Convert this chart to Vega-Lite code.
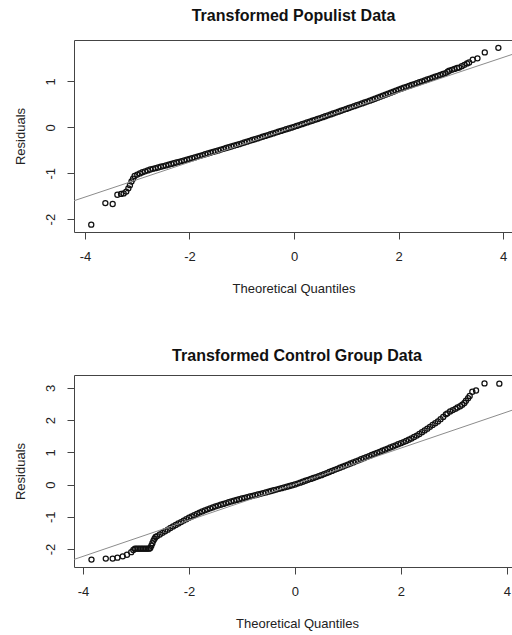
{
  "$schema": "https://vega.github.io/schema/vega-lite/v6.json",
  "background": "white",
  "padding": {"left": 13, "top": 7, "right": 0, "bottom": 0},
  "spacing": 51,
  "datasets": {
    "populist": [
      {"x":-3.88,"y":-2.12},{"x":-3.61,"y":-1.65},{"x":-3.47,"y":-1.67},{"x":-3.38,"y":-1.47},{"x":-3.31,"y":-1.45},{"x":-3.26,"y":-1.44},{"x":-3.21,"y":-1.4},{"x":-3.17,"y":-1.33},{"x":-3.14,"y":-1.26},{"x":-3.11,"y":-1.18},{"x":-3.08,"y":-1.12},
      {"x":-3.05,"y":-1.06},{"x":-3.0,"y":-1.03},{"x":-2.95,"y":-1.005},{"x":-2.9,"y":-0.98},{"x":-2.85,"y":-0.96},{"x":-2.8,"y":-0.94},{"x":-2.75,"y":-0.92},{"x":-2.7,"y":-0.905},{"x":-2.65,"y":-0.89},{"x":-2.6,"y":-0.875},{"x":-2.55,"y":-0.86},{"x":-2.5,"y":-0.845},{"x":-2.45,"y":-0.83},{"x":-2.4,"y":-0.814},{"x":-2.35,"y":-0.798},{"x":-2.3,"y":-0.783},{"x":-2.25,"y":-0.767},{"x":-2.2,"y":-0.752},{"x":-2.15,"y":-0.736},{"x":-2.1,"y":-0.721},{"x":-2.05,"y":-0.705},{"x":-2.0,"y":-0.69},{"x":-1.95,"y":-0.673},{"x":-1.9,"y":-0.656},{"x":-1.85,"y":-0.639},{"x":-1.8,"y":-0.622},{"x":-1.75,"y":-0.605},{"x":-1.7,"y":-0.588},{"x":-1.65,"y":-0.571},{"x":-1.6,"y":-0.554},{"x":-1.55,"y":-0.537},{"x":-1.5,"y":-0.52},{"x":-1.45,"y":-0.503},{"x":-1.4,"y":-0.486},{"x":-1.35,"y":-0.469},{"x":-1.3,"y":-0.452},{"x":-1.25,"y":-0.435},{"x":-1.2,"y":-0.418},{"x":-1.15,"y":-0.401},{"x":-1.1,"y":-0.384},{"x":-1.05,"y":-0.367},{"x":-1.0,"y":-0.35},{"x":-0.95,"y":-0.332},{"x":-0.9,"y":-0.314},{"x":-0.85,"y":-0.296},{"x":-0.8,"y":-0.278},{"x":-0.75,"y":-0.26},{"x":-0.7,"y":-0.242},{"x":-0.65,"y":-0.224},{"x":-0.6,"y":-0.206},{"x":-0.55,"y":-0.188},{"x":-0.5,"y":-0.17},{"x":-0.45,"y":-0.152},{"x":-0.4,"y":-0.134},{"x":-0.35,"y":-0.116},{"x":-0.3,"y":-0.098},{"x":-0.25,"y":-0.08},{"x":-0.2,"y":-0.062},{"x":-0.15,"y":-0.044},{"x":-0.1,"y":-0.026},{"x":-0.05,"y":-0.008},{"x":0.0,"y":0.01},{"x":0.05,"y":0.029},{"x":0.1,"y":0.048},{"x":0.15,"y":0.067},{"x":0.2,"y":0.086},{"x":0.25,"y":0.105},{"x":0.3,"y":0.124},{"x":0.35,"y":0.143},{"x":0.4,"y":0.162},{"x":0.45,"y":0.181},{"x":0.5,"y":0.2},{"x":0.55,"y":0.22},{"x":0.6,"y":0.24},{"x":0.65,"y":0.26},{"x":0.7,"y":0.28},{"x":0.75,"y":0.3},{"x":0.8,"y":0.32},{"x":0.85,"y":0.34},{"x":0.9,"y":0.36},{"x":0.95,"y":0.38},{"x":1.0,"y":0.4},{"x":1.05,"y":0.42},{"x":1.1,"y":0.44},{"x":1.15,"y":0.46},{"x":1.2,"y":0.48},{"x":1.25,"y":0.5},{"x":1.3,"y":0.52},{"x":1.35,"y":0.54},{"x":1.4,"y":0.56},{"x":1.45,"y":0.58},{"x":1.5,"y":0.6},{"x":1.55,"y":0.622},{"x":1.6,"y":0.644},{"x":1.65,"y":0.666},{"x":1.7,"y":0.688},{"x":1.75,"y":0.71},{"x":1.8,"y":0.732},{"x":1.85,"y":0.754},{"x":1.9,"y":0.776},{"x":1.95,"y":0.798},{"x":2.0,"y":0.82},{"x":2.05,"y":0.84},{"x":2.1,"y":0.86},{"x":2.15,"y":0.88},{"x":2.2,"y":0.9},{"x":2.25,"y":0.92},{"x":2.3,"y":0.94},{"x":2.35,"y":0.96},{"x":2.4,"y":0.98},{"x":2.45,"y":1.0},{"x":2.5,"y":1.02},{"x":2.55,"y":1.04},{"x":2.6,"y":1.06},{"x":2.65,"y":1.08},{"x":2.7,"y":1.1},{"x":2.75,"y":1.12},{"x":2.8,"y":1.14},{"x":2.85,"y":1.16},{"x":2.9,"y":1.18},
      {"x":2.94,"y":1.21},{"x":2.97,"y":1.23},{"x":3.02,"y":1.25},{"x":3.07,"y":1.27},{"x":3.12,"y":1.29},{"x":3.16,"y":1.3},{"x":3.21,"y":1.33},{"x":3.26,"y":1.36},{"x":3.31,"y":1.39},{"x":3.35,"y":1.41},{"x":3.42,"y":1.47},{"x":3.51,"y":1.5},{"x":3.65,"y":1.63},{"x":3.91,"y":1.73}
    ],
    "populistLine": [{"x":-4.6,"y":-1.748},{"x":4.6,"y":1.748}],
    "control": [
      {"x":-3.84,"y":-2.33},{"x":-3.57,"y":-2.3},{"x":-3.44,"y":-2.3},{"x":-3.35,"y":-2.27},{"x":-3.25,"y":-2.23},{"x":-3.17,"y":-2.18},{"x":-3.09,"y":-2.1},{"x":-3.05,"y":-2.03},
      {"x":-3.02,"y":-1.99},{"x":-2.99,"y":-1.99},{"x":-2.96,"y":-1.99},{"x":-2.93,"y":-1.99},{"x":-2.9,"y":-1.99},{"x":-2.87,"y":-1.99},{"x":-2.84,"y":-1.99},{"x":-2.81,"y":-1.99},{"x":-2.78,"y":-1.99},{"x":-2.75,"y":-1.99},
      {"x":-2.73,"y":-1.97},{"x":-2.71,"y":-1.9},{"x":-2.69,"y":-1.82},{"x":-2.67,"y":-1.74},{"x":-2.65,"y":-1.68},{"x":-2.63,"y":-1.63},
      {"x":-2.6,"y":-1.6},{"x":-2.55,"y":-1.55},{"x":-2.5,"y":-1.5},{"x":-2.45,"y":-1.45},{"x":-2.4,"y":-1.4},{"x":-2.35,"y":-1.35},{"x":-2.3,"y":-1.3},{"x":-2.25,"y":-1.255},{"x":-2.2,"y":-1.21},{"x":-2.15,"y":-1.165},{"x":-2.1,"y":-1.12},{"x":-2.05,"y":-1.075},{"x":-2.0,"y":-1.03},{"x":-1.95,"y":-0.99},{"x":-1.9,"y":-0.95},{"x":-1.85,"y":-0.91},{"x":-1.8,"y":-0.87},{"x":-1.75,"y":-0.835},{"x":-1.7,"y":-0.8},{"x":-1.65,"y":-0.77},{"x":-1.6,"y":-0.74},{"x":-1.55,"y":-0.71},{"x":-1.5,"y":-0.68},{"x":-1.45,"y":-0.654},{"x":-1.4,"y":-0.628},{"x":-1.35,"y":-0.602},{"x":-1.3,"y":-0.576},{"x":-1.25,"y":-0.55},{"x":-1.2,"y":-0.525},{"x":-1.15,"y":-0.5},{"x":-1.1,"y":-0.478},{"x":-1.05,"y":-0.456},{"x":-1.0,"y":-0.434},{"x":-0.95,"y":-0.412},{"x":-0.9,"y":-0.39},{"x":-0.85,"y":-0.37},{"x":-0.8,"y":-0.35},{"x":-0.75,"y":-0.33},{"x":-0.7,"y":-0.31},{"x":-0.65,"y":-0.288},{"x":-0.6,"y":-0.266},{"x":-0.55,"y":-0.244},{"x":-0.5,"y":-0.222},{"x":-0.45,"y":-0.2},{"x":-0.4,"y":-0.178},{"x":-0.35,"y":-0.156},{"x":-0.3,"y":-0.134},{"x":-0.25,"y":-0.112},{"x":-0.2,"y":-0.09},{"x":-0.15,"y":-0.068},{"x":-0.1,"y":-0.046},{"x":-0.05,"y":-0.023},{"x":0.0,"y":0.0},{"x":0.05,"y":0.029},{"x":0.1,"y":0.058},{"x":0.15,"y":0.087},{"x":0.2,"y":0.116},{"x":0.25,"y":0.145},{"x":0.3,"y":0.174},{"x":0.35,"y":0.203},{"x":0.4,"y":0.232},{"x":0.45,"y":0.261},{"x":0.5,"y":0.29},{"x":0.55,"y":0.323},{"x":0.6,"y":0.356},{"x":0.65,"y":0.389},{"x":0.7,"y":0.422},{"x":0.75,"y":0.455},{"x":0.8,"y":0.488},{"x":0.85,"y":0.521},{"x":0.9,"y":0.554},{"x":0.95,"y":0.587},{"x":1.0,"y":0.62},{"x":1.05,"y":0.653},{"x":1.1,"y":0.686},{"x":1.15,"y":0.719},{"x":1.2,"y":0.752},{"x":1.25,"y":0.785},{"x":1.3,"y":0.818},{"x":1.35,"y":0.851},{"x":1.4,"y":0.884},{"x":1.45,"y":0.917},{"x":1.5,"y":0.95},{"x":1.55,"y":0.983},{"x":1.6,"y":1.016},{"x":1.65,"y":1.049},{"x":1.7,"y":1.082},{"x":1.75,"y":1.115},{"x":1.8,"y":1.148},{"x":1.85,"y":1.182},{"x":1.9,"y":1.216},{"x":1.95,"y":1.25},{"x":2.0,"y":1.284},{"x":2.05,"y":1.318},{"x":2.1,"y":1.352},{"x":2.15,"y":1.39},{"x":2.2,"y":1.43},{"x":2.25,"y":1.475},{"x":2.3,"y":1.52},{"x":2.35,"y":1.57},{"x":2.4,"y":1.625},{"x":2.45,"y":1.68},{"x":2.5,"y":1.735},{"x":2.55,"y":1.79},{"x":2.6,"y":1.85},{"x":2.65,"y":1.905},{"x":2.7,"y":1.96},{"x":2.75,"y":2.03},{"x":2.8,"y":2.1},{"x":2.85,"y":2.18},
      {"x":2.88,"y":2.21},{"x":2.93,"y":2.27},{"x":2.98,"y":2.31},{"x":3.03,"y":2.35},{"x":3.07,"y":2.39},{"x":3.12,"y":2.43},{"x":3.16,"y":2.48},{"x":3.2,"y":2.53},{"x":3.23,"y":2.6},{"x":3.27,"y":2.68},{"x":3.3,"y":2.75},{"x":3.35,"y":2.88},{"x":3.42,"y":2.92},{"x":3.58,"y":3.14},{"x":3.86,"y":3.13}
    ],
    "controlLine": [{"x":-4.6,"y":-2.566},{"x":4.6,"y":2.586}]
  },
  "vconcat": [
    {
      "width": 439,
      "height": 192,
      "title": {"text": "Transformed Populist Data", "offset": 16},
      "encoding": {
        "x": {"field": "x", "type": "quantitative", "scale": {"domain": [-4.21, 4.19], "nice": false, "zero": false}, "axis": {"values": [-4, -2, 0, 2, 4], "title": "Theoretical Quantiles", "labelExpr": "toString(datum.value)"}},
        "y": {"field": "y", "type": "quantitative", "scale": {"domain": [-2.28, 1.9], "nice": false, "zero": false}, "axis": {"values": [-2, -1, 0, 1], "title": "Residuals", "labelExpr": "toString(datum.value)"}}
      },
      "layer": [
        {"data": {"name": "populist"}, "mark": {"type": "point", "shape": "circle", "filled": false, "size": 26, "strokeWidth": 1.25, "color": "#111111", "opacity": 1, "clip": true}},
        {"data": {"name": "populistLine"}, "mark": {"type": "line", "color": "#8c8c8c", "strokeWidth": 1, "clip": true}}
      ]
    },
    {
      "width": 446,
      "height": 192,
      "title": {"text": "Transformed Control Group Data", "offset": 11},
      "encoding": {
        "x": {"field": "x", "type": "quantitative", "scale": {"domain": [-4.17, 4.25], "nice": false, "zero": false}, "axis": {"values": [-4, -2, 0, 2, 4], "title": "Theoretical Quantiles", "labelExpr": "toString(datum.value)"}},
        "y": {"field": "y", "type": "quantitative", "scale": {"domain": [-2.56, 3.4], "nice": false, "zero": false}, "axis": {"values": [-2, -1, 0, 1, 2, 3], "title": "Residuals", "labelExpr": "toString(datum.value)"}}
      },
      "layer": [
        {"data": {"name": "control"}, "mark": {"type": "point", "shape": "circle", "filled": false, "size": 26, "strokeWidth": 1.25, "color": "#111111", "opacity": 1, "clip": true}},
        {"data": {"name": "controlLine"}, "mark": {"type": "line", "color": "#8c8c8c", "strokeWidth": 1, "clip": true}}
      ]
    }
  ],
  "config": {
    "font": "Liberation Sans",
    "view": {"stroke": "#444444", "strokeWidth": 1},
    "axis": {"domain": false, "grid": false, "ticks": true, "tickColor": "#444444", "tickSize": 7, "labelFont": "Liberation Sans", "labelFontSize": 13, "labelColor": "#222222", "labelOverlap": false, "labelFlush": false, "titleFont": "Liberation Sans", "titleFontSize": 13, "titleFontWeight": "normal", "titleColor": "#222222"},
    "axisX": {"labelPadding": 11, "titlePadding": 19},
    "axisY": {"labelAngle": -90, "labelAlign": "center", "labelBaseline": "alphabetic", "labelPadding": 13, "titlePadding": 17},
    "title": {"font": "Liberation Sans", "fontSize": 16, "fontWeight": "bold", "color": "#111111", "anchor": "middle", "baseline": "bottom"}
  }
}
